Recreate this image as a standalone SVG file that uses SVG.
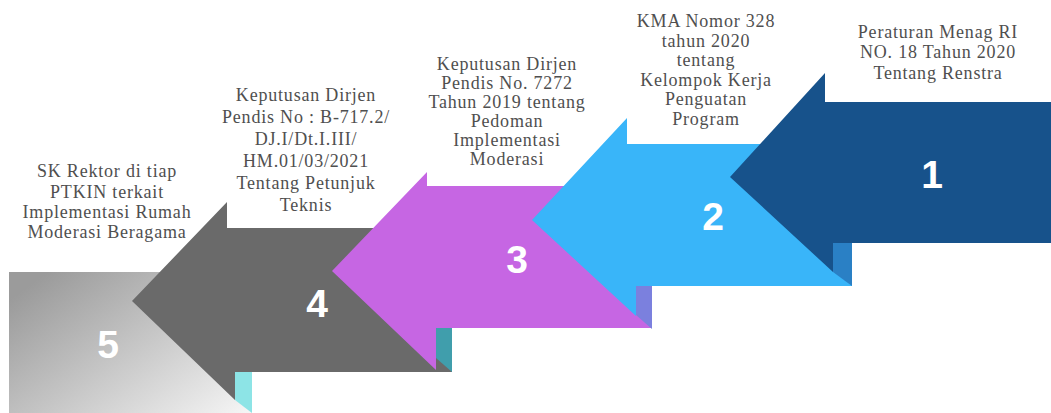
<svg xmlns="http://www.w3.org/2000/svg" width="1051" height="413" viewBox="0 0 1051 413">
<defs>
<linearGradient id="g5" x1="0" y1="0.2" x2="1" y2="1">
<stop offset="0" stop-color="#9b9b9b"/>
<stop offset="0.55" stop-color="#cdcdcd"/>
<stop offset="1" stop-color="#f6f6f6"/>
</linearGradient>
<style>
.lbl{font-family:"Liberation Serif",serif;font-size:18px;letter-spacing:0.8px;fill:#4f4f4f;text-anchor:middle}
.num{font-family:"Liberation Sans",Arial,sans-serif;font-size:39px;font-weight:bold;fill:#ffffff;text-anchor:middle}
</style>
</defs>
<rect width="1051" height="413" fill="#ffffff"/>

<g id="node5">
<rect x="9" y="272" width="243" height="141" fill="url(#g5)"/>
<text class="lbl"><tspan x="107" y="177">SK Rektor di tiap</tspan><tspan x="107" y="198">PTKIN terkait</tspan><tspan x="107" y="218">Implementasi Rumah</tspan><tspan x="107" y="238">Moderasi Beragama</tspan></text>
<text class="num" x="108" y="358">5</text>
</g>

<g id="node4">
<polygon points="235,372 252,372 252,413 235,400" fill="#8de4e6"/>
<polygon points="132,301 227,202 227,228 452,228 452,372 235,372 235,400" fill="#6a6a6a"/>
<text class="lbl"><tspan x="306" y="101">Keputusan Dirjen</tspan><tspan x="306" y="123">Pendis No : B-717.2/</tspan><tspan x="306" y="145">DJ.I/Dt.I.III/</tspan><tspan x="306" y="167">HM.01/03/2021</tspan><tspan x="306" y="189">Tentang Petunjuk</tspan><tspan x="306" y="211">Teknis</tspan></text>
<text class="num" x="317" y="317">4</text>
</g>

<g id="node3">
<polygon points="436,328 452,328 452,372 436,358" fill="#409eac"/>
<polygon points="332,271 427,172 427,186 652,186 652,328 436,328 436,370" fill="#c666e3"/>
<text class="lbl"><tspan x="507" y="70">Keputusan Dirjen</tspan><tspan x="507" y="89">Pendis No. 7272</tspan><tspan x="507" y="108">Tahun 2019 tentang</tspan><tspan x="507" y="127">Pedoman</tspan><tspan x="507" y="146">Implementasi</tspan><tspan x="507" y="165">Moderasi</tspan></text>
<text class="num" x="517" y="273">3</text>
</g>

<g id="node2">
<polygon points="636,286 652,286 652,329 636,315" fill="#7b80de"/>
<polygon points="532,220 627,118 627,144 852,144 852,286 636,286 636,316" fill="#39b5f9"/>
<text class="lbl"><tspan x="706" y="27">KMA Nomor 328</tspan><tspan x="706" y="47">tahun 2020</tspan><tspan x="706" y="66">tentang</tspan><tspan x="706" y="86">Kelompok Kerja</tspan><tspan x="706" y="105">Penguatan</tspan><tspan x="706" y="125">Program</tspan></text>
<text class="num" x="713" y="230">2</text>
</g>

<g id="node1">
<polygon points="833,243 852,243 852,286 833,272" fill="#2a80c5"/>
<polygon points="730,177 825,73 825,102 1051,102 1051,243 833,243 833,272" fill="#17528b"/>
<text class="lbl"><tspan x="938" y="38">Peraturan Menag RI</tspan><tspan x="938" y="58">NO. 18 Tahun 2020</tspan><tspan x="938" y="79">Tentang Renstra</tspan></text>
<text class="num" x="932" y="188">1</text>
</g>
</svg>
